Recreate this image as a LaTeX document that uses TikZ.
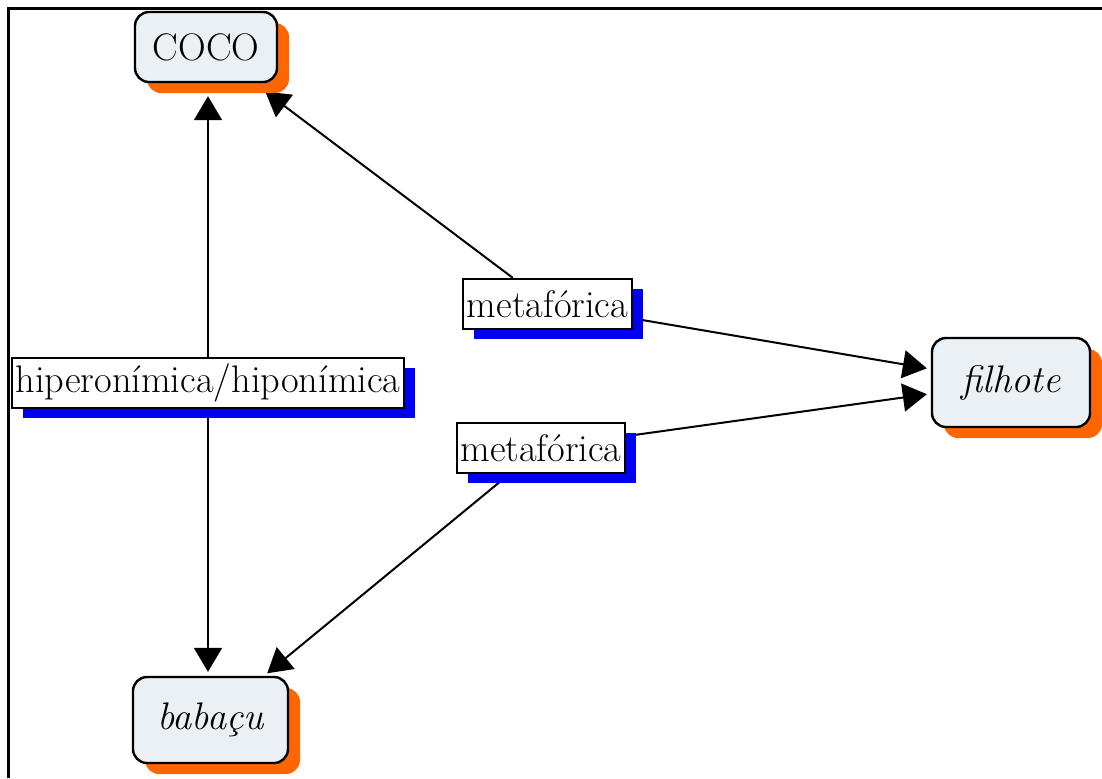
\documentclass[tikz,border=0pt]{standalone}
\usetikzlibrary{arrows.meta,shadows,backgrounds}
\definecolor{boxfill}{RGB}{234,240,244}
\definecolor{shadeorange}{RGB}{255,102,0}
\definecolor{shadeblue}{RGB}{0,0,245}
\begin{document}
\begin{tikzpicture}[x=0.5pt,y=-0.5pt,
    every node/.append style={font=\fontsize{19.2}{22}\selectfont},
    concept/.style={draw,line width=1.2pt,fill=boxfill,rounded corners=7pt,
      inner sep=1pt,drop shadow={fill=shadeorange,opacity=1,
        shadow xshift=6pt,shadow yshift=-5.5pt}},
    link/.style={draw,line width=1.2pt,fill=white,inner sep=1pt,
      minimum height=25pt,drop shadow={fill=shadeblue,opacity=1,
        shadow xshift=5.5pt,shadow yshift=-5pt}},
    rel/.style={line width=1pt,-{Triangle[length=12pt,width=14pt]}}]
    \useasboundingbox (0,0) rectangle (1102,778);
    \draw[line width=1.5pt] (8,778) -- (8,8) -- (1102,8);
    % concepts
    \node[concept,minimum width=71pt,minimum height=35pt] (coco) at (206,47) {COCO};
    \node[concept,minimum width=79pt,minimum height=44.5pt] (filhote) at (1011,382.5) {\itshape filhote};
    \node[concept,minimum width=77.5pt,minimum height=43pt] (babacu) at (210.5,720) {\itshape babaçu};
    % linking phrases
    \node[link,minimum width=196pt] (hiper) at (208,383) {hiperonímica/hiponímica};
    \node[link,minimum width=84.5pt] (meta1) at (547.5,304) {metafórica};
    \node[link,minimum width=84pt] (meta2) at (541,448) {metafórica};
    % connectors go behind the boxes
    \begin{scope}[on background layer]
    \draw[rel,shorten >=6.5pt] (hiper.north) -- (hiper.north |- coco.south);
    \draw[rel,shorten >=2pt] (hiper.south) -- (hiper.south |- babacu.north);
    \draw[rel,shorten >=7pt] (meta1) -- (coco);
    \draw[rel,shorten >=2pt] (meta1) -- (filhote);
    \draw[rel,shorten >=2pt] (meta2) -- (filhote);
    \draw[rel,shorten >=2pt] (meta2) -- (babacu);
    \end{scope}
\end{tikzpicture}
\end{document}
